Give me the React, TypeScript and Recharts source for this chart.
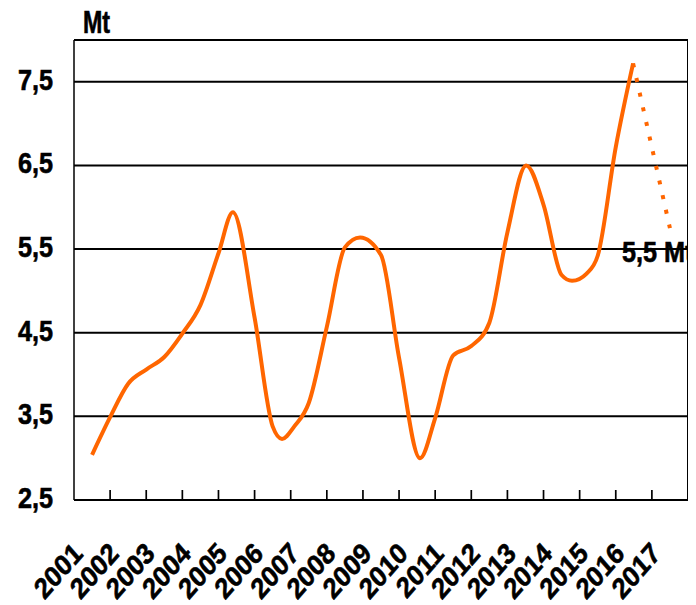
import { LineChart, Line, XAxis, YAxis, CartesianGrid, ReferenceLine, ReferenceDot } from 'recharts';

// years shown on the axis
const categories = [2001, 2002, 2003, 2004, 2005, 2006, 2007, 2008, 2009, 2010, 2011, 2012, 2013, 2014, 2015, 2016, 2017];

// production curve (decimal years)
const years = [
  2001, 2001.5, 2002, 2002.5, 2003, 2003.5, 2004, 2004.5, 2004.9, 2005.5,
  2006, 2006.26, 2006.6, 2007, 2007.5, 2008, 2008.42, 2009, 2009.5, 2010.08,
  2010.5, 2011, 2011.5, 2012, 2012.5, 2013.02, 2013.5, 2014, 2014.29, 2014.7,
  2015, 2015.5, 2015.98,
];
const output = [
  3.04, 3.49, 3.89, 4.06, 4.21, 4.49, 4.83, 5.45, 5.94, 4.68,
  3.38, 3.23, 3.38, 3.66, 4.57, 5.52, 5.64, 5.43, 4.2, 3.0,
  3.48, 4.23, 4.34, 4.62, 5.7, 6.5, 6.03, 5.19, 5.12, 5.21,
  5.42, 6.72, 7.72,
];

// forecast (dotted)
const projYears = [2015.98, 2017];
const projOutput = [7.72, 5.75];

const yTicks = [2.5, 3.5, 4.5, 5.5, 6.5, 7.5];
const forecastLabel = '5,5 Mt';
const forecastValue = 5.5;

const mainData = years.map((x, i) => ({ x, v: output[i] }));
const projData = projYears.map((x, i) => ({ x, v: projOutput[i] }));
const xTicks = [...categories, ...categories.slice(0, -1).map((y) => y + 0.5)].sort((a, b) => a - b);

const FONT = "'Liberation Sans', Arial, sans-serif";
const SQUISH = 0.87;
const textStyle = {
  fontFamily: FONT,
  fontWeight: 'bold' as const,
  fontSize: 29,
  fill: '#000',
  stroke: '#000',
  strokeWidth: 0.6,
};

const XTick = (props: any) => {
  const { x, y, payload } = props;
  const value = payload.value;
  if (!Number.isInteger(value)) {
    return <line x1={x} x2={x} y1={y - 10} y2={y} stroke="#000" strokeWidth={1.7} />;
  }
  return (
    <text transform={`translate(${x - 8},${y + 55}) scale(${SQUISH},1) rotate(-45)`} textAnchor="end" {...textStyle}>
      {String(value)}
    </text>
  );
};

const YTick = (props: any) => {
  const { x, y, payload } = props;
  return (
    <text transform={`translate(${x - 21},${y + 8}) scale(${SQUISH},1)`} textAnchor="end" {...textStyle}>
      {String(payload.value).replace('.', ',')}
    </text>
  );
};

const unitLabel = (props: any) => {
  const { viewBox } = props;
  return (
    <text transform={`translate(${viewBox.x + viewBox.width + 9},${viewBox.y - 7}) scale(0.8,1.1)`} {...textStyle}>
      Mt
    </text>
  );
};

const forecastText = (props: any) => {
  const { viewBox } = props;
  return (
    <text transform={`translate(${viewBox.x - 48},${viewBox.y + 13}) scale(${SQUISH},1)`} {...textStyle}>
      {forecastLabel}
    </text>
  );
};

export default function App() {
  return (
    <div style={{ width: 688, height: 597 }}>
      <LineChart width={688} height={597} margin={{ top: 32, right: 8, bottom: 0, left: 0 }}>
        <CartesianGrid horizontal vertical={false} stroke="#000" strokeWidth={2} />
        <XAxis
          type="number"
          dataKey="x"
          domain={[2000.5, 2017.5]}
          ticks={xTicks}
          interval={0}
          tickLine={false}
          tickSize={0}
          tickMargin={0}
          tick={<XTick />}
          height={105}
          axisLine={{ stroke: '#000', strokeWidth: 2 }}
          allowDataOverflow
        />
        <YAxis
          type="number"
          domain={[2.5, 8]}
          ticks={yTicks}
          interval={0}
          width={66}
          tickLine={false}
          tickSize={0}
          tickMargin={0}
          tick={<YTick />}
          axisLine={{ stroke: '#000', strokeWidth: 1.5 }}
          label={unitLabel}
          allowDataOverflow
        />
        <ReferenceLine y={8} stroke="#000" strokeWidth={1} />
        <ReferenceLine x={2017.5} stroke="#000" strokeWidth={2} />
        <Line
          data={mainData}
          dataKey="v"
          type="monotone"
          stroke="#FF6600"
          strokeWidth={4}
          dot={false}
          isAnimationActive={false}
        />
        <Line
          data={projData}
          dataKey="v"
          type="linear"
          stroke="#FF6600"
          strokeWidth={4}
          strokeDasharray="4 11"
          dot={false}
          isAnimationActive={false}
        />
        <ReferenceDot x={2017} y={forecastValue} r={0} fill="none" stroke="none" label={forecastText} />
      </LineChart>
    </div>
  );
}
